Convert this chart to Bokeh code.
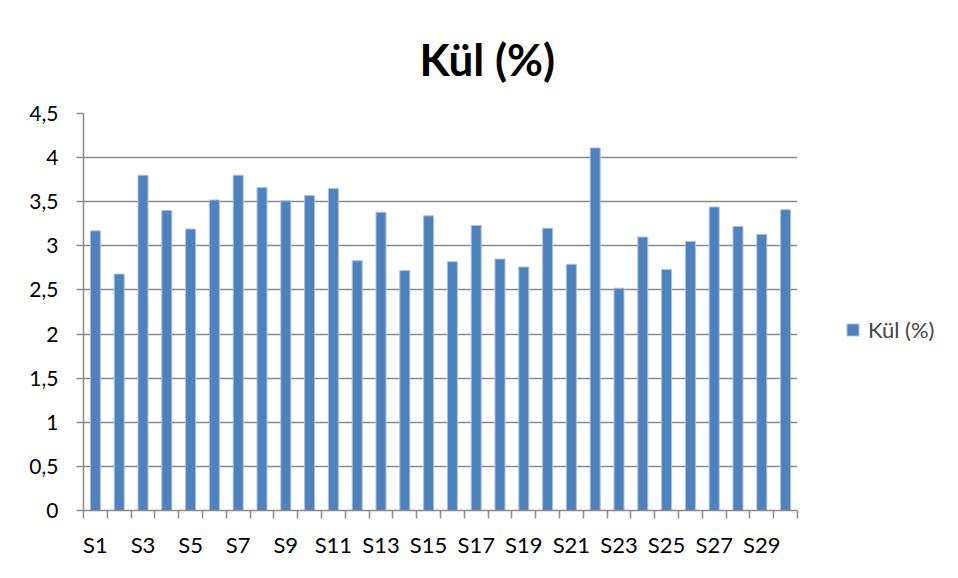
from bokeh.plotting import figure
from bokeh.models import (FixedTicker, Range1d, Legend, LegendItem,
                          ColumnDataSource)
from bokeh.embed import file_html
from bokeh.resources import INLINE

# ---- data ----
categories = [f"S{i}" for i in range(1, 31)]
values = [3.17, 2.68, 3.80, 3.40, 3.19, 3.52, 3.80, 3.66, 3.51, 3.57,
          3.65, 2.83, 3.38, 2.72, 3.34, 2.82, 3.23, 2.85, 2.76, 3.20,
          2.79, 4.11, 2.52, 3.10, 2.73, 3.05, 3.44, 3.22, 3.13, 3.41]
y_ticks = [0, 0.5, 1, 1.5, 2, 2.5, 3, 3.5, 4, 4.5]
y_tick_labels = ["0", "0,5", "1", "1,5", "2", "2,5", "3", "3,5", "4", "4,5"]
series_name = "Kül (%)"
title_text = "Kül (%)"

FONT = "Lato"
GRAY = "#8a8a8a"
BLUE = "#4F81BD"

positions = list(range(1, len(categories) + 1))
src = ColumnDataSource(dict(x=positions, top=values, cat=categories))

p = figure(frame_width=714, frame_height=397, output_backend="svg",
           toolbar_location=None,
           min_border_left=83, min_border_right=153, min_border_top=113,
           min_border_bottom=60,
           x_range=Range1d(0.5, len(categories) + 0.5), y_range=Range1d(0, 4.5))
p.outline_line_color = None
p.background_fill_color = "white"
p.border_fill_color = "white"

r = p.vbar(x="x", top="top", width=0.42, source=src, fill_color=BLUE,
           line_color="#a9c1e0", line_width=1)

# title
p.title.text = title_text
p.title.text_font = FONT
p.title.text_font_style = "bold"
p.title.text_font_size = "44px"
p.title.text_color = "black"
p.title.align = "left"
p.title.offset = 336
p.title.standoff = 58

# x axis: labels at odd categories, ticks at category boundaries
xa = p.xaxis[0]
xa.ticker = FixedTicker(ticks=positions[::2],
                        minor_ticks=[i + 0.5 for i in range(0, len(categories) + 1)])
xa.major_label_overrides = {positions[i]: categories[i] for i in range(0, len(categories), 2)}
xa.major_tick_line_color = None
xa.minor_tick_line_color = GRAY
xa.minor_tick_line_width = 1.5
xa.minor_tick_out = 8
xa.minor_tick_in = 0
xa.axis_line_color = GRAY
xa.axis_line_width = 1.5
xa.major_label_text_font = FONT
xa.major_label_text_font_size = "22px"
xa.major_label_text_color = "black"
xa.major_label_standoff = 12

ya = p.yaxis[0]
ya.ticker = FixedTicker(ticks=y_ticks)
ya.major_label_overrides = {t: l for t, l in zip(y_ticks, y_tick_labels)}
ya.minor_tick_line_color = None
ya.major_tick_line_color = GRAY
ya.major_tick_line_width = 1.5
ya.major_tick_out = 7
ya.major_tick_in = 0
ya.axis_line_color = GRAY
ya.axis_line_width = 1.5
ya.major_label_text_font = FONT
ya.major_label_text_font_size = "21px"
ya.major_label_text_color = "black"
ya.major_label_standoff = 18

p.xgrid.grid_line_color = None
p.ygrid.ticker = FixedTicker(ticks=y_ticks[1:])
p.ygrid.grid_line_color = GRAY
p.ygrid.grid_line_width = 1.5

# legend in the right panel
legend = Legend(items=[LegendItem(label=series_name, renderers=[r])],
                location=(48, 167), border_line_color=None,
                background_fill_alpha=0, padding=0, margin=0,
                glyph_width=15, glyph_height=15, label_standoff=8,
                label_text_font=FONT, label_text_font_size="22px")
p.add_layout(legend, "right")

open("out.html", "w").write(file_html(p, INLINE))
